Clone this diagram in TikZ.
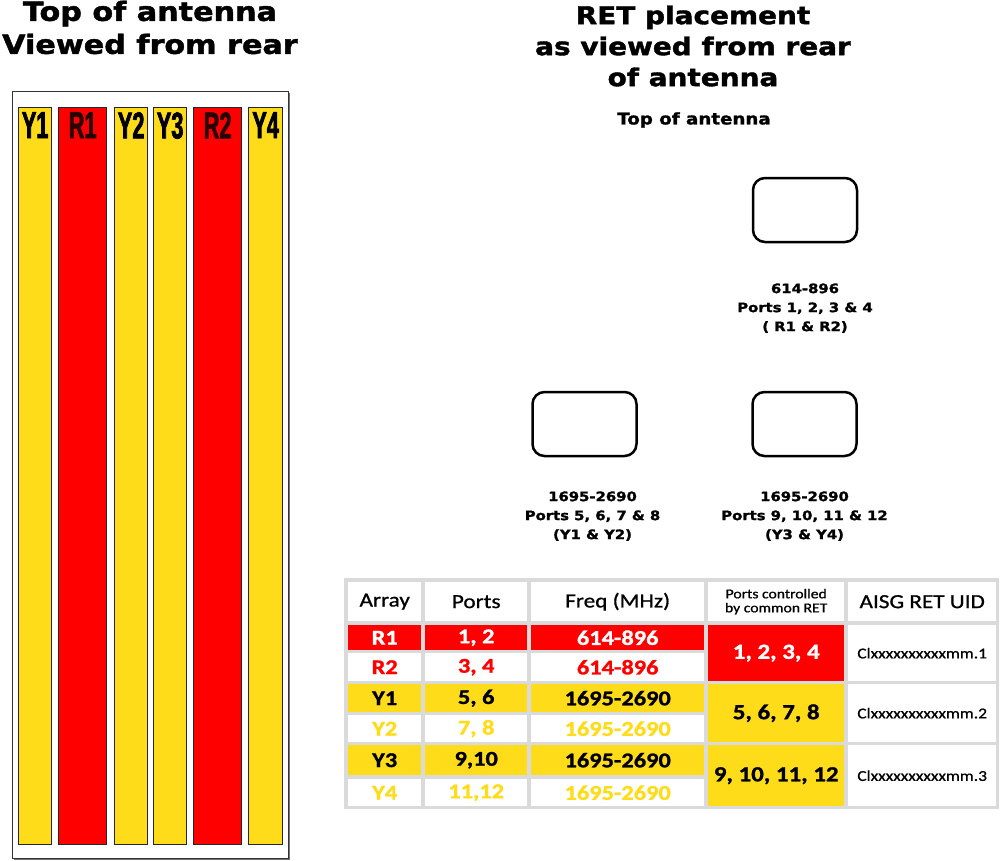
\documentclass[tikz,border=0pt]{standalone}
\usepackage{fontspec}
\setmainfont{DejaVu Sans}
\newfontfamily\headfont[FakeStretch=1.14, BoldFeatures={FakeBold=1.6}]{DejaVu Sans}
\newfontfamily\stripfont[FakeStretch=0.58, BoldFeatures={FakeBold=1.8}]{Liberation Sans}
\newfontfamily\tabfont[FakeStretch=1.16, UprightFeatures={FakeBold=0.9}, BoldFeatures={FakeBold=1.2}]{Carlito}
\usetikzlibrary{positioning}
\definecolor{antred}{HTML}{FF0000}
\definecolor{antyellow}{HTML}{FFDC1A}
\definecolor{darkr}{HTML}{2A0000}
\definecolor{cellgray}{HTML}{DADADA}
\tikzset{
  title/.style={align=center, inner sep=0, font=\headfont\bfseries\fontsize{24.5}{33}\selectfont},
  subtitle/.style={inner sep=0, font=\headfont\bfseries\fontsize{16}{19}\selectfont},
  frame/.style={draw=black!80, fill=white, anchor=north west, inner sep=0,
    minimum width=276pt, minimum height=767pt},
  strip/.style={draw=black!85, line width=1.3pt, anchor=north west, inner sep=0,
    minimum height=737pt},
  striptxt/.style={inner sep=0, font=\stripfont\bfseries\fontsize{37.5}{40}\selectfont},
  ret/.style={draw, line width=2.5pt, rounded corners=12pt,
    minimum width=104pt, minimum height=64pt},
  retlbl/.style={align=center, inner sep=0, font=\headfont\bfseries\fontsize{13}{19}\selectfont},
  cell/.style={anchor=north west, inner sep=0, align=center},
  headtxt/.style={font=\tabfont\fontsize{20}{22}\selectfont},
  smalltxt/.style={font=\tabfont\fontsize{13.5}{14}\selectfont},
  rowtxt/.style={font=\tabfont\bfseries\fontsize{21}{23}\selectfont},
  grptxt/.style={font=\tabfont\bfseries\fontsize{21.5}{23}\selectfont},
  uidtxt/.style={font=\tabfont\fontsize{15}{17}\selectfont},
}

\begin{document}
\begin{tikzpicture}[x=1pt, y=-1pt]
  \useasboundingbox (0,0) rectangle (1000,860);

  % antenna seen from the rear
  \node[title, font=\headfont\bfseries\fontsize{26.5}{33}\selectfont] (ttl) at (150,27.5)
    {Top of antenna\\Viewed from rear};
  \fill[black!55] (14,93) rectangle (290,860);
  \node[frame] (ant) at (12,91) {};
  \foreach \n/\x/\w/\c/\tc in {Y1/18/33/antyellow/black, R1/58/48/antred/darkr,
      Y2/114/33/antyellow/black, Y3/153/33/antyellow/black,
      R2/193/48/antred/darkr, Y4/248/34/antyellow/black}{
    \node[strip, fill=\c, minimum width=\w pt] (s\n) at (\x,107) {};
    \node[striptxt, text=\tc, below=5pt of s\n.north] (l\n) {\n};
  }

  % RET placement
  \node[title, font=\headfont\bfseries\fontsize{24.5}{31}\selectfont] (ttr) at (693,46)
    {RET placement\\as viewed from rear\\of antenna};
  \node[subtitle] (top) at (694,120) {Top of antenna};

  \node[ret] (retR) at (805,210) {};
  \node[ret] (retY1) at (584.5,424) {};
  \node[ret] (retY3) at (804.5,424) {};

  \node[retlbl, below=40pt of retR] (labR) {614-896\\Ports 1, 2, 3 \& 4\\( R1 \& R2)};
  \node[retlbl, below=34pt of retY1, xshift=8pt] (labY1) {1695-2690\\Ports 5, 6, 7 \& 8\\(Y1 \& Y2)};
  \node[retlbl, below=34pt of retY3] (labY3) {1695-2690\\Ports 9, 10, 11 \& 12\\(Y3 \& Y4)};

  % table
  \fill[cellgray] (344,578) rectangle (999,809);
  \foreach \n/\x/\w/\t in {arr/348/73/Array, prt/425/102/Ports, frq/531/173/Freq (MHz)}
    \node[cell, headtxt, fill=white, minimum width=\w pt, minimum height=39pt] (h\n) at (\x,582) {\t};
  \node[cell, smalltxt, fill=white, minimum width=136pt, minimum height=39pt] (hret) at (708,582)
    {Ports controlled\\by common RET};
  \node[cell, headtxt, fill=white, minimum width=148pt, minimum height=39pt] (huid) at (848,582)
    {AISG RET UID};

  \foreach \n/\y/\h/\c/\tc/\p/\f in {R1/625/25/antred/white/{1, 2}/614-896,
      R2/653/28/white/antred/{3, 4}/614-896,
      Y1/684/28/antyellow/black/{5, 6}/1695-2690,
      Y2/715/27/white/antyellow/{7, 8}/1695-2690,
      Y3/745/30/antyellow/black/{9,10}/1695-2690,
      Y4/779/27/white/antyellow/{11,12}/1695-2690}{
    \node[cell, rowtxt, fill=\c, text=\tc, minimum width=73pt, minimum height=\h pt] (a\n) at (348,\y) {\n};
    \node[cell, rowtxt, fill=\c, text=\tc, minimum width=102pt, minimum height=\h pt] (p\n) at (425,\y) {\p};
    \node[cell, rowtxt, fill=\c, text=\tc, minimum width=173pt, minimum height=\h pt] (f\n) at (531,\y) {\f};
  }

  \foreach \n/\y/\h/\c/\tc/\p in {1/625/56/antred/white/{1, 2, 3, 4},
      2/684/58/antyellow/black/{5, 6, 7, 8},
      3/745/61/antyellow/black/{9, 10, 11, 12}}{
    \node[cell, grptxt, fill=\c, text=\tc, minimum width=136pt, minimum height=\h pt] (g\n) at (708,\y) {\p};
    \node[cell, uidtxt, fill=white, minimum width=148pt, minimum height=\h pt] (u\n) at (848,\y) {Clxxxxxxxxxxmm.\n};
  }
\end{tikzpicture}
\end{document}
